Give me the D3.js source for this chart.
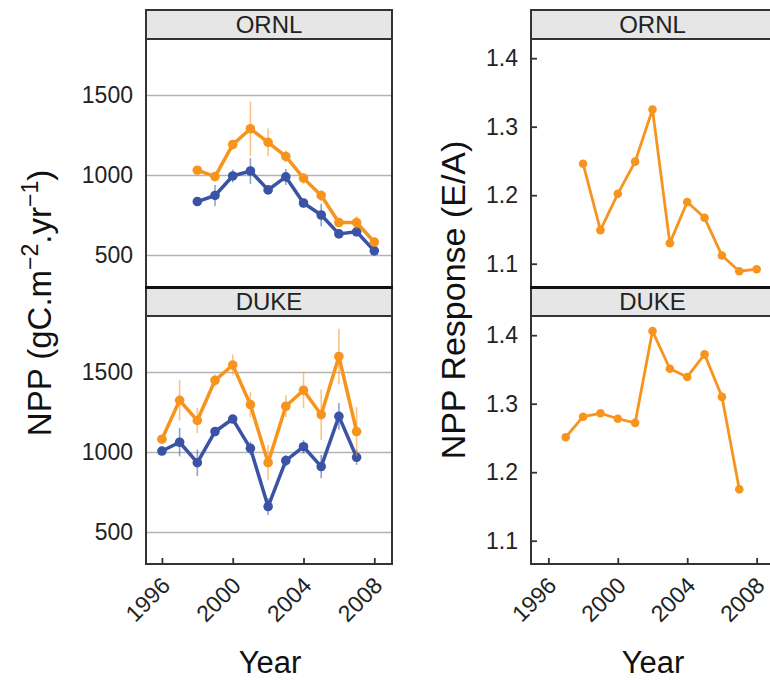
<!DOCTYPE html>
<html>
<head>
<meta charset="utf-8">
<script src="https://cdn.jsdelivr.net/npm/d3@7"></script>
<style>
  html, body { margin: 0; padding: 0; background: #fff; }
  svg { display: block; font-family: "Liberation Sans", Arial, Helvetica, sans-serif; }
</style>
</head>
<body>
<svg id="chart" width="770" height="680"></svg>
<script>
// ---------------- DATA ----------------
const sites = ["ORNL", "DUKE"];
const xTickYears = [1996, 2000, 2004, 2008];
const nppTicks = [500, 1000, 1500];
const responseTicks = [1.1, 1.2, 1.3, 1.4];

const yearsORNL = [1998, 1999, 2000, 2001, 2002, 2003, 2004, 2005, 2006, 2007, 2008];
const ornlElevated    = [1030, 990, 1190, 1289, 1204, 1116, 980, 872, 703, 703, 581];
const ornlElevatedErr = [15, 15, 20, 170, 87, 37, 35, 35, 20, 40, 20];
const ornlAmbient     = [834, 872, 994, 1025, 907, 988, 825, 750, 632, 645, 526];
const ornlAmbientErr  = [20, 65, 40, 80, 20, 50, 30, 70, 20, 30, 15];

const yearsDUKE = [1996, 1997, 1998, 1999, 2000, 2001, 2002, 2003, 2004, 2005, 2006, 2007];
const dukeElevated    = [1080, 1323, 1197, 1448, 1544, 1296, 933, 1286, 1386, 1233, 1597, 1128];
const dukeElevatedErr = [15, 126, 79, 37, 65, 79, 110, 68, 110, 158, 173, 152];
const dukeAmbient     = [1006, 1061, 933, 1128, 1206, 1023, 659, 946, 1033, 909, 1223, 967];
const dukeAmbientErr  = [15, 89, 83, 20, 20, 42, 52, 36, 42, 73, 84, 47];

const yearsRespORNL = [1998, 1999, 2000, 2001, 2002, 2003, 2004, 2005, 2006, 2007, 2008];
const ornlResponse  = [1.246, 1.149, 1.202, 1.249, 1.325, 1.130, 1.190, 1.167, 1.112, 1.089, 1.092];
const yearsRespDUKE = [1997, 1998, 1999, 2000, 2001, 2002, 2003, 2004, 2005, 2006, 2007];
const dukeResponse  = [1.251, 1.281, 1.286, 1.278, 1.272, 1.406, 1.351, 1.339, 1.372, 1.310, 1.175];

// ---------------- STYLE / LAYOUT ----------------
const ORANGE = "#f7941e", BLUE = "#3a53a4";
const ORANGE_ERR = "rgba(247,148,30,0.55)", BLUE_ERR = "rgba(58,83,164,0.55)";
const BORDER = "#333";
const rows = [
  { strip: [10, 39], plot: [39, 287] },
  { strip: [287, 316], plot: [316, 564] }
];
const leftX = [146, 392], rightX = [531, 774];

const svg = d3.select("#chart");
svg.append("rect").attr("width", 770).attr("height", 680).attr("fill", "#fff");

const xL = d3.scaleLinear().domain([1995.1, 2009]).range(leftX);
const xR = d3.scaleLinear().domain([1995, 2009]).range(rightX);

const leftData = [
  { years: yearsORNL, series: [
      { v: ornlAmbient, e: ornlAmbientErr, c: BLUE, ec: BLUE_ERR },
      { v: ornlElevated, e: ornlElevatedErr, c: ORANGE, ec: ORANGE_ERR } ] },
  { years: yearsDUKE, series: [
      { v: dukeAmbient, e: dukeAmbientErr, c: BLUE, ec: BLUE_ERR },
      { v: dukeElevated, e: dukeElevatedErr, c: ORANGE, ec: ORANGE_ERR } ] }
];
const rightData = [
  { years: yearsRespORNL, v: ornlResponse },
  { years: yearsRespDUKE, v: dukeResponse }
];

function strip(x0, x1, r, label) {
  svg.append("rect").attr("x", x0).attr("y", r.strip[0]).attr("width", x1 - x0)
    .attr("height", r.strip[1] - r.strip[0]).attr("fill", "#e6e6e6")
    .attr("stroke", BORDER).attr("stroke-width", 2);
  svg.append("text").attr("x", (x0 + x1) / 2).attr("y", (r.strip[0] + r.strip[1]) / 2)
    .attr("dy", "0.37em").attr("text-anchor", "middle").attr("font-size", 24)
    .attr("fill", "#222").text(label);
}

function xAxis(g, x, yBottom) {
  const ax = d3.axisBottom(x).tickValues(xTickYears).tickSize(-6).tickFormat(d3.format("d"));
  const gg = g.append("g").attr("transform", `translate(0,${yBottom})`).call(ax);
  gg.select(".domain").remove();
  gg.selectAll(".tick line").attr("stroke", BORDER).attr("stroke-width", 1.8);
  gg.selectAll(".tick text")
    .attr("text-anchor", "end").attr("font-size", 23).attr("fill", "#222")
    .attr("x", null).attr("y", null).attr("dy", null)
    .attr("transform", "translate(9,23) rotate(-45)");
}

// ---------- LEFT PANELS ----------
rows.forEach((r, i) => {
  const y = d3.scaleLinear().domain([300, 1850]).range([r.plot[1], r.plot[0]]);
  const g = svg.append("g");
  const ay = d3.axisLeft(y).tickValues(nppTicks).tickSize(-(leftX[1] - leftX[0]))
    .tickPadding(13).tickFormat(d3.format("d"));
  const gy = g.append("g").attr("transform", `translate(${leftX[0]},0)`).call(ay);
  gy.select(".domain").remove();
  gy.selectAll(".tick line").attr("stroke", "#b3b3b3").attr("stroke-width", 1.5);
  gy.selectAll(".tick text").attr("font-size", 23).attr("fill", "#222");

  const d = leftData[i];
  d.series.forEach(s => {
    const pts = d.years.map((yr, k) => ({ yr, v: s.v[k], e: s.e[k] }));
    g.selectAll(null).data(pts).enter().append("line")
      .attr("x1", p => xL(p.yr)).attr("x2", p => xL(p.yr))
      .attr("y1", p => y(p.v - p.e)).attr("y2", p => y(p.v + p.e))
      .attr("stroke", s.ec).attr("stroke-width", 1.6);
    g.append("path").datum(pts)
      .attr("d", d3.line().x(p => xL(p.yr)).y(p => y(p.v)))
      .attr("fill", "none").attr("stroke", s.c).attr("stroke-width", 3.5)
      .attr("stroke-linejoin", "round");
    g.selectAll(null).data(pts).enter().append("circle")
      .attr("cx", p => xL(p.yr)).attr("cy", p => y(p.v)).attr("r", 4.8).attr("fill", s.c);
  });

  svg.append("rect").attr("x", leftX[0]).attr("y", r.plot[0]).attr("width", leftX[1] - leftX[0])
    .attr("height", r.plot[1] - r.plot[0]).attr("fill", "none").attr("stroke", BORDER).attr("stroke-width", 2);
  if (i === 1) xAxis(svg, xL, r.plot[1]);
  strip(leftX[0], leftX[1], r, sites[i]);
});

// ---------- RIGHT PANELS ----------
rows.forEach((r, i) => {
  const y = d3.scaleLinear().domain([1.066, 1.428]).range([r.plot[1], r.plot[0]]);
  const g = svg.append("g");
  const ay = d3.axisLeft(y).tickValues(responseTicks).tickSize(-6).tickPadding(13).tickFormat(d3.format(".1f"));
  const gy = g.append("g").attr("transform", `translate(${rightX[0]},0)`).call(ay);
  gy.select(".domain").remove();
  gy.selectAll(".tick line").attr("stroke", BORDER).attr("stroke-width", 1.8);
  gy.selectAll(".tick text").attr("font-size", 23).attr("fill", "#222");

  const d = rightData[i];
  const pts = d.years.map((yr, k) => ({ yr, v: d.v[k] }));
  g.append("path").datum(pts)
    .attr("d", d3.line().x(p => xR(p.yr)).y(p => y(p.v)))
    .attr("fill", "none").attr("stroke", ORANGE).attr("stroke-width", 2.8)
    .attr("stroke-linejoin", "round");
  g.selectAll(null).data(pts).enter().append("circle")
    .attr("cx", p => xR(p.yr)).attr("cy", p => y(p.v)).attr("r", 4.3).attr("fill", ORANGE);

  svg.append("line").attr("x1", rightX[0]).attr("x2", rightX[0]).attr("y1", r.plot[0]).attr("y2", r.plot[1])
    .attr("stroke", BORDER).attr("stroke-width", 2);
  svg.append("line").attr("x1", rightX[0] - 1).attr("x2", rightX[1]).attr("y1", r.plot[1]).attr("y2", r.plot[1])
    .attr("stroke", BORDER).attr("stroke-width", 2);
  if (i === 1) xAxis(svg, xR, r.plot[1]);
  strip(rightX[0], rightX[1], r, sites[i]);
});

// thick separator lines between top plot and lower strip
[leftX, rightX].forEach(X => {
  svg.append("line").attr("x1", X[0] - 1).attr("x2", X[1] + 1).attr("y1", 287.5).attr("y2", 287.5)
    .attr("stroke", "#111").attr("stroke-width", 3.2);
});

// ---------- AXIS TITLES ----------
const t1 = svg.append("text").attr("transform", "translate(51,303) rotate(-90)")
  .attr("text-anchor", "middle").attr("font-size", 33).attr("fill", "#111");
t1.append("tspan").text("NPP (gC.m");
t1.append("tspan").attr("font-size", 23).attr("dy", -13).text("\u22122");
t1.append("tspan").attr("dy", 13).text(".yr");
t1.append("tspan").attr("font-size", 23).attr("dy", -13).text("\u22121");
t1.append("tspan").attr("dy", 13).text(")");

svg.append("text").attr("transform", "translate(465,300) rotate(-90)")
  .attr("text-anchor", "middle").attr("font-size", 34).attr("fill", "#111")
  .text("NPP Response (E/A)");

svg.append("text").attr("x", 270).attr("y", 673).attr("text-anchor", "middle")
  .attr("font-size", 31).attr("fill", "#111").text("Year");
svg.append("text").attr("x", 653).attr("y", 673).attr("text-anchor", "middle")
  .attr("font-size", 31).attr("fill", "#111").text("Year");
</script>
</body>
</html>
